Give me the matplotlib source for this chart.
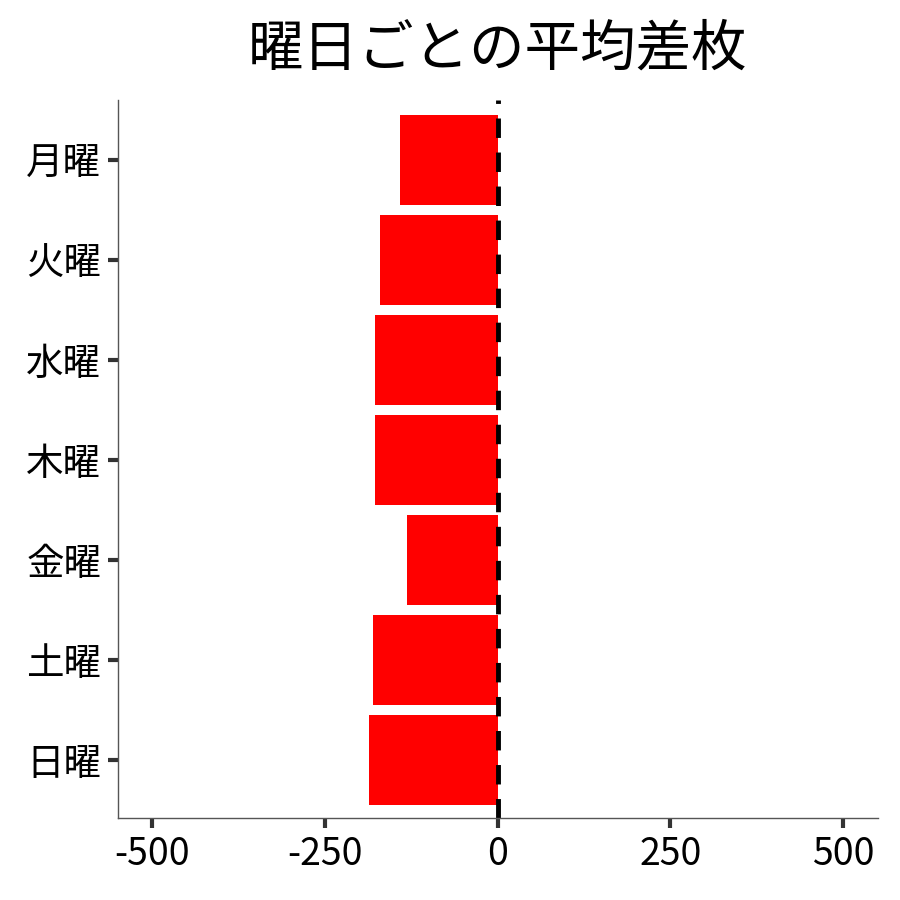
import matplotlib.pyplot as plt

plt.rcParams['font.family'] = ['Noto Sans CJK JP', 'DejaVu Sans']

days = ["月曜", "火曜", "水曜", "木曜", "金曜", "土曜", "日曜"]
avg_diff = [-141, -170, -177, -177, -131, -180, -187]
x_ticks = [-500, -250, 0, 250, 500]

fig, ax = plt.subplots(figsize=(9, 9), dpi=100)
fig.subplots_adjust(left=0.131, right=0.975, top=0.889, bottom=0.091)

pos = list(range(len(days)))[::-1]
ax.barh(pos, avg_diff, height=0.9, color="#ff0000")
ax.axvline(0, color="black", linestyle=(0, (4, 3)), linewidth=3.5)

ax.set_xlim(-550, 550)
ax.set_ylim(-0.58, 6.6)
ax.set_yticks(pos)
ax.set_yticklabels(days)
ax.set_xticks(x_ticks)
ax.set_xticklabels([str(t) for t in x_ticks])
ax.tick_params(labelsize=27, length=7, width=3, color="#333333", labelcolor="black", pad=5)

for side in ["top", "right"]:
    ax.spines[side].set_visible(False)
for side in ["left", "bottom"]:
    ax.spines[side].set_color("#555555")
    ax.spines[side].set_linewidth(1)

ax.set_title("曜日ごとの平均差枚", fontsize=40, pad=25)

fig.savefig("out.png")
